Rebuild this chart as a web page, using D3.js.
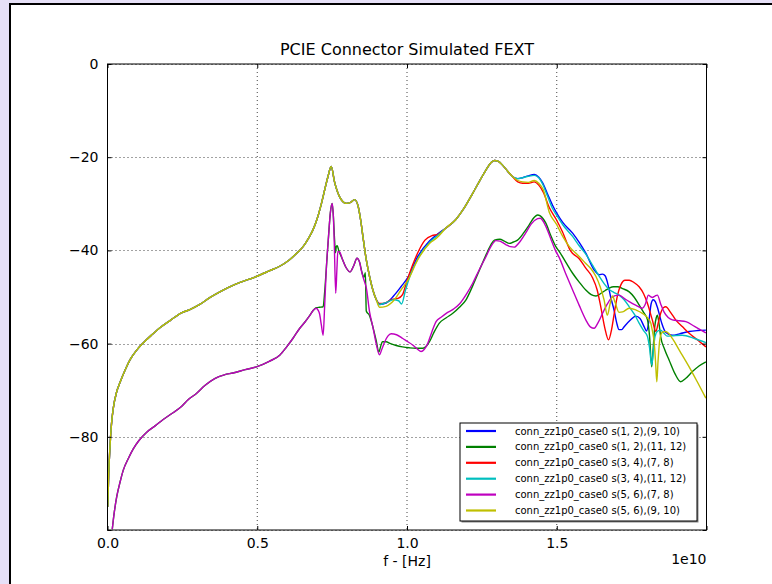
<!DOCTYPE html>
<html>
<head>
<meta charset="utf-8">
<script src="https://cdn.jsdelivr.net/npm/d3@7"></script>
<style>
  html, body { margin: 0; padding: 0; background: #e6e0f7; }
  svg { display: block; }
  text { font-family: "DejaVu Sans", sans-serif; fill: #000; }
</style>
</head>
<body>
<svg id="chart" width="772" height="584"></svg>
<script>
// Frequency in units of 1e10 Hz, magnitude in dB.
const seriesNames = [
  "conn_zz1p0_case0 s(1, 2),(9, 10)",
  "conn_zz1p0_case0 s(1, 2),(11, 12)",
  "conn_zz1p0_case0 s(3, 4),(7, 8)",
  "conn_zz1p0_case0 s(3, 4),(11, 12)",
  "conn_zz1p0_case0 s(5, 6),(7, 8)",
  "conn_zz1p0_case0 s(5, 6),(9, 10)"
];
const seriesColors = ["#0000ff", "#008000", "#ff0000", "#00bfbf", "#bf00bf", "#bfbf00"];

const xTicks = [0, 0.5, 1.0, 1.5, 2.0];
const xTickLabels = ["0.0", "0.5", "1.0", "1.5", ""];
const yTicks = [0, -20, -40, -60, -80, -100];
const yTickLabels = ["0", "\u221220", "\u221240", "\u221260", "\u221280", ""];

// Shared low-frequency segment of the four upper traces
const upperRise = [
  [0.001,-95],[0.004,-88],[0.008,-82.5],[0.013,-77.5],[0.019,-74],[0.03,-70.5],
  [0.042,-68.3],[0.06,-65.5],[0.075,-63.5],[0.095,-61.6],[0.12,-59.8],[0.15,-58],
  [0.175,-56.6],[0.21,-55],[0.247,-53.4],[0.275,-52.7],[0.308,-51.6],[0.34,-50.2],
  [0.375,-48.9],[0.43,-47.2],[0.497,-45.6],[0.54,-44.4],[0.575,-43.4],[0.608,-42],
  [0.635,-40.4],[0.653,-39.2],[0.672,-37.3],[0.686,-35.6],[0.70,-33.2],[0.714,-30],
  [0.727,-26.5],[0.736,-24.2],[0.747,-22.0],[0.758,-25.3],[0.775,-28.5],[0.797,-29.9],
  [0.812,-29.7],[0.825,-29.1],[0.836,-30.3],[0.846,-33.8],[0.853,-37.1],[0.864,-42],
  [0.875,-45.6],[0.886,-48.5],[0.897,-50.5]
];
// Shared mid-band peak of the four upper traces
const upperPeak = [
  [1.13,-35.2],[1.164,-33.3],[1.19,-31],[1.219,-27.8],[1.245,-24.8],[1.264,-22.7],
  [1.28,-21.2],[1.292,-20.7],[1.305,-20.9],[1.319,-21.7],[1.336,-23],[1.353,-24.2]
];

const blueMid = [
  [0.908,-51.6],[0.93,-51.3],[0.955,-49.8],[0.98,-47.8],[1.003,-45.8],[1.036,-41.3],
  [1.075,-38],[1.1,-36.6]
];
const blueTail = [
  [1.37,-24.6],[1.386,-24.4],[1.405,-24],[1.425,-23.7],[1.44,-24.3],[1.453,-25.5],
  [1.47,-28],[1.486,-30.3],[1.5,-32],[1.52,-34],[1.553,-36.3],[1.575,-38.3],
  [1.597,-40.6],[1.625,-44.2],[1.642,-45.2],[1.653,-45.1],[1.662,-45.5],[1.669,-46.8],
  [1.68,-50],[1.692,-53],[1.7,-55.5],[1.708,-57],[1.717,-57],[1.725,-56.4],[1.745,-55],
  [1.764,-54.1],[1.778,-54.6],[1.792,-56.4],[1.80,-57.3],[1.808,-55],[1.815,-51.5],
  [1.822,-50.6],[1.829,-51],[1.836,-52.2],[1.85,-55.5],[1.864,-57.6],[1.886,-58.2],
  [1.91,-57.9],[1.942,-57.4],[1.97,-57.2],[1.998,-57.1]
];

const redMid = [
  [0.908,-51.4],[0.93,-51.2],[0.95,-50.5],[0.97,-50.3],[0.985,-49.5],[1.0,-46.5],
  [1.036,-40.5],[1.06,-37.8],[1.085,-36.8],[1.1,-36.6]
];
const redTail = [
  [1.37,-25.3],[1.386,-25.6],[1.405,-25.6],[1.425,-25.3],[1.44,-26],[1.455,-27.5],
  [1.475,-30.8],[1.497,-33.2],[1.519,-36],[1.545,-40],[1.575,-41.8],[1.597,-43.8],
  [1.619,-45.8],[1.635,-48.5],[1.647,-52.1],[1.66,-56.5],[1.673,-59.2],[1.683,-57],
  [1.692,-53.5],[1.703,-49.6],[1.714,-47.4],[1.728,-46.4],[1.742,-46.4],[1.758,-46.9],
  [1.775,-47.8],[1.79,-49.3],[1.803,-51.4],[1.819,-54.9],[1.831,-57.4],[1.839,-55.5],
  [1.847,-53.5],[1.856,-52.3],[1.864,-52.1],[1.88,-53.3],[1.897,-54.9],[1.92,-56.4],
  [1.942,-57.8],[1.97,-59.2],[1.998,-60.7]
];

const cyanMid = [
  [0.908,-51.6],[0.93,-51.2],[0.955,-50.6],[0.972,-50.8],[0.982,-51.5],[0.995,-48.5],
  [1.01,-45.5],[1.036,-41.8],[1.075,-38.3],[1.1,-36.9]
];
const cyanTail = [
  [1.37,-24.6],[1.386,-24.4],[1.405,-24.1],[1.425,-23.9],[1.44,-24.4],[1.453,-25.8],
  [1.47,-28.5],[1.486,-31],[1.5,-32.5],[1.52,-34.5],[1.553,-37],[1.575,-39],
  [1.597,-40.8],[1.62,-43.2],[1.642,-45.6],[1.66,-47.3],[1.675,-48.4],[1.69,-49],
  [1.708,-49.6],[1.725,-50.6],[1.742,-52.1],[1.76,-53.8],[1.775,-55.6],[1.79,-57.2],
  [1.803,-58.5],[1.81,-61],[1.817,-64.6],[1.822,-62],[1.828,-58.5],[1.837,-57.3],
  [1.847,-57.1],[1.858,-57.8],[1.869,-58.4],[1.89,-58.3],[1.919,-58.2],[1.96,-58.9],
  [1.998,-59.8]
];

const yellowMid = [
  [0.908,-52.2],[0.93,-52],[0.955,-50.8],[0.98,-48.5],[1.003,-46.4],[1.036,-42],
  [1.075,-38.5],[1.1,-37.3]
];
const yellowTail = [
  [1.37,-25],[1.386,-25.3],[1.405,-25.4],[1.425,-25],[1.44,-25.6],[1.455,-27],
  [1.475,-31.8],[1.5,-34.5],[1.52,-37],[1.542,-39.2],[1.57,-41],[1.597,-42.8],
  [1.615,-44],[1.631,-45.6],[1.645,-47.8],[1.658,-50.6],[1.669,-53.9],[1.678,-51.5],
  [1.686,-49.8],[1.695,-51.2],[1.708,-53.3],[1.72,-53.2],[1.742,-52.4],[1.765,-52.8],
  [1.786,-53.5],[1.805,-54.6],[1.814,-55.6],[1.82,-57.5],[1.825,-59.5],[1.83,-64],
  [1.834,-68.2],[1.838,-64],[1.844,-59.2],[1.852,-57.6],[1.864,-57.4],[1.875,-57.9],
  [1.886,-58.9],[1.91,-61.5],[1.942,-65],[1.97,-68.3],[1.998,-71.7]
];

// Shared low-frequency segment of the two lower traces
const lowerRise = [
  [0.016,-99.8],[0.022,-96.5],[0.031,-92.8],[0.042,-89.7],[0.053,-87.1],[0.07,-84.6],
  [0.086,-82.6],[0.105,-80.8],[0.131,-79.0],[0.16,-77.6],[0.186,-76.3],[0.215,-75],
  [0.247,-73.5],[0.27,-72],[0.297,-70.7],[0.325,-69],[0.358,-67.5],[0.39,-66.7],
  [0.419,-66.3],[0.46,-65.6],[0.497,-65],[0.54,-63.8],[0.575,-62.5],[0.597,-60.8],
  [0.62,-58.8],[0.642,-56.7],[0.66,-55.3],[0.675,-54],[0.688,-52.8]
];

const greenTail = [
  [0.697,-52.3],[0.708,-52.2],[0.72,-52.1],[0.725,-49],[0.731,-43.5],[0.738,-37],
  [0.744,-32],[0.75,-29.9],[0.754,-32.5],[0.758,-37.5],[0.761,-40.5],[0.764,-39.2],
  [0.767,-39],[0.772,-40],[0.785,-42],[0.795,-43.5],[0.81,-44.6],[0.822,-43.3],
  [0.833,-41.7],[0.842,-42.6],[0.85,-44.8],[0.856,-45.8],[0.861,-44.8],[0.864,-53],
  [0.875,-54],[0.886,-56.4],[0.897,-59.3],[0.906,-61.8],[0.912,-60.6],[0.918,-59.6],
  [0.93,-59.6],[0.945,-60],[0.964,-60.4],[0.985,-60.7],[1.008,-60.9],[1.03,-61],
  [1.053,-61],[1.065,-60.5],[1.075,-59.6],[1.09,-57.6],[1.108,-55.6],[1.13,-54.5],
  [1.153,-53.5],[1.175,-52.2],[1.197,-50.6],[1.22,-47.5],[1.242,-44.2],[1.265,-40.8],
  [1.28,-38.8],[1.292,-37.8],[1.31,-37.6],[1.325,-38],[1.342,-38.5],[1.355,-38.2],
  [1.369,-37.8],[1.39,-36.2],[1.408,-34.5],[1.425,-32.9],[1.436,-32.4],[1.445,-32.6],
  [1.464,-34.2],[1.48,-36.8],[1.497,-39.2],[1.508,-40.2],[1.53,-42.5],[1.553,-44.9],
  [1.575,-46.8],[1.597,-48.5],[1.615,-49.5],[1.631,-49.8],[1.648,-49.2],[1.662,-48.6],
  [1.675,-48.1],[1.69,-47.8],[1.703,-47.8],[1.72,-48.2],[1.742,-48.9],[1.758,-50],
  [1.775,-51.7],[1.79,-53.3],[1.803,-54.9],[1.81,-58.5],[1.817,-65],[1.822,-61],
  [1.827,-56.5],[1.832,-54.5],[1.836,-53.9],[1.841,-55.5],[1.847,-58.5],[1.86,-61.2],
  [1.875,-63.5],[1.895,-66.5],[1.914,-68.2],[1.93,-67.5],[1.953,-66],[1.975,-64.8],
  [1.998,-63.9]
];

const magentaTail = [
  [0.697,-52.4],[0.703,-52.8],[0.708,-53.6],[0.714,-56],[0.72,-58.2],[0.725,-52],
  [0.731,-43.5],[0.738,-37],[0.744,-32],[0.75,-29.9],[0.754,-32.5],[0.757,-38],
  [0.762,-49.2],[0.766,-44],[0.769,-40.2],[0.775,-40.3],[0.785,-42],[0.795,-43.5],
  [0.81,-44.6],[0.822,-43.3],[0.833,-41.7],[0.842,-42.6],[0.847,-44.2],[0.858,-46.7],
  [0.864,-48],[0.875,-53.2],[0.886,-56.4],[0.897,-60],[0.908,-62.4],[0.916,-61.2],
  [0.925,-59.7],[0.936,-58.4],[0.947,-57.9],[0.965,-58.1],[0.986,-58.9],[1.0,-59.5],
  [1.019,-60.3],[1.035,-61.2],[1.047,-61.7],[1.058,-61.2],[1.069,-60],[1.083,-57.5],
  [1.097,-55.3],[1.115,-54.3],[1.131,-53.5],[1.155,-52.6],[1.175,-51.5],[1.2,-49.2],
  [1.219,-47.1],[1.24,-44.3],[1.264,-41.3],[1.28,-39.2],[1.297,-37.9],[1.31,-38],
  [1.331,-38.8],[1.345,-39.2],[1.358,-39.3],[1.375,-38.3],[1.397,-36.2],[1.415,-34.3],
  [1.436,-33.2],[1.445,-33.1],[1.464,-34.9],[1.48,-37.5],[1.497,-40.2],[1.508,-41.5],
  [1.53,-45],[1.553,-48.5],[1.575,-51.8],[1.597,-54.9],[1.612,-56.4],[1.625,-56.7],
  [1.638,-55.5],[1.653,-53.5],[1.668,-51.6],[1.681,-50.3],[1.695,-49.7],[1.708,-49.6],
  [1.725,-50.3],[1.742,-51],[1.765,-51.8],[1.786,-52.4],[1.796,-51.5],[1.806,-49.6],
  [1.813,-49.9],[1.819,-50.1],[1.828,-49.8],[1.836,-49.6],[1.847,-51.5],[1.858,-53.2],
  [1.872,-54.4],[1.886,-54.9],[1.91,-55.1],[1.931,-55.3],[1.96,-56.3],[1.998,-57.7]
];

const blue    = upperRise.concat(blueMid, upperPeak, blueTail);
const green   = lowerRise.concat(greenTail);
const red     = upperRise.concat(redMid, upperPeak, redTail);
const cyan    = upperRise.concat(cyanMid, upperPeak, cyanTail);
const magenta = lowerRise.concat(magentaTail);
const yellow  = upperRise.concat(yellowMid, upperPeak, yellowTail);
const seriesData = [blue, green, red, cyan, magenta, yellow];

const svg = d3.select("#chart");
const W = 772, H = 584;

// figure canvas with its dark frame
svg.append("rect").attr("x", 10).attr("y", 4).attr("width", W).attr("height", H)
  .attr("fill", "#fff").attr("stroke", "#000").attr("stroke-width", 2);

const plot = { left: 107.5, top: 64, right: 706.5, bottom: 530 };
const x = d3.scaleLinear().domain([0, 2]).range([plot.left, plot.right]);
const y = d3.scaleLinear().domain([-100, 0]).range([plot.bottom, plot.top]);

svg.append("defs").append("clipPath").attr("id", "plotClip")
  .append("rect").attr("x", plot.left).attr("y", plot.top)
  .attr("width", plot.right - plot.left).attr("height", plot.bottom - plot.top);

// dotted grid
const grid = svg.append("g");
grid.selectAll("line.gx").data(xTicks).join("line")
  .attr("x1", d => x(d)).attr("x2", d => x(d))
  .attr("y1", plot.top).attr("y2", plot.bottom)
  .attr("stroke", "#444").attr("stroke-width", 1).attr("stroke-dasharray", "1,3");
grid.selectAll("line.gy").data(yTicks).join("line")
  .attr("y1", d => Math.round(y(d)) + 0.5).attr("y2", d => Math.round(y(d)) + 0.5)
  .attr("x1", plot.left).attr("x2", plot.right)
  .attr("stroke", "#444").attr("stroke-width", 1).attr("stroke-dasharray", "1,3");

// traces
const line = d3.line().x(d => x(d[0])).y(d => y(d[1])).curve(d3.curveMonotoneX);
svg.append("g").attr("clip-path", "url(#plotClip)")
  .selectAll("path").data(seriesData).join("path")
  .attr("d", line).attr("fill", "none")
  .attr("stroke", (d, i) => seriesColors[i]).attr("stroke-width", 1.4)
  .attr("stroke-linejoin", "round");

// axes: ticks inside on all four sides
const tickLen = 4;
const axBottom = d3.axisBottom(x).tickValues(xTicks).tickSize(-tickLen).tickPadding(8)
  .tickFormat((d, i) => xTickLabels[i]);
const axTop = d3.axisTop(x).tickValues(xTicks).tickSize(-tickLen).tickFormat("");
const axLeft = d3.axisLeft(y).tickValues(yTicks).tickSize(-tickLen).tickPadding(9)
  .tickFormat((d, i) => yTickLabels[i]);
const axRight = d3.axisRight(y).tickValues(yTicks).tickSize(-tickLen).tickFormat("");

function styleAxis(g) {
  g.select(".domain").remove();
  g.selectAll(".tick line").attr("stroke", "#000");
  g.selectAll(".tick text").attr("font-family", "DejaVu Sans").attr("font-size", 14).attr("fill", "#000");
}
svg.append("g").attr("transform", `translate(0,${plot.bottom})`).call(axBottom).call(styleAxis);
svg.append("g").attr("transform", `translate(0,${plot.top})`).call(axTop).call(styleAxis);
svg.append("g").attr("transform", `translate(${plot.left},0)`).call(axLeft).call(styleAxis);
svg.append("g").attr("transform", `translate(${plot.right},0)`).call(axRight).call(styleAxis);

// frame around the axes
svg.append("rect").attr("x", plot.left).attr("y", plot.top)
  .attr("width", plot.right - plot.left).attr("height", plot.bottom - plot.top)
  .attr("fill", "none").attr("stroke", "#000").attr("stroke-width", 1);

// title and labels
svg.append("text").attr("x", (plot.left + plot.right) / 2).attr("y", 55)
  .attr("text-anchor", "middle").attr("font-size", 16).text("PCIE Connector Simulated FEXT");
svg.append("text").attr("x", (plot.left + plot.right) / 2).attr("y", 566)
  .attr("text-anchor", "middle").attr("font-size", 14).text("f - [Hz]");
svg.append("text").attr("x", plot.right).attr("y", 564)
  .attr("text-anchor", "end").attr("font-size", 14).text("1e10");

// legend
const lg = { x: 460, y: 423, w: 237, h: 98, row: 15.9 };
const legend = svg.append("g");
legend.append("rect").attr("x", lg.x + 1.5).attr("y", lg.y + 1.5).attr("width", lg.w).attr("height", lg.h)
  .attr("fill", "#888");
legend.append("rect").attr("x", lg.x).attr("y", lg.y).attr("width", lg.w).attr("height", lg.h)
  .attr("fill", "#fff").attr("stroke", "#000").attr("stroke-width", 1);
const rows = legend.selectAll("g.row").data(seriesNames).join("g")
  .attr("transform", (d, i) => `translate(0,${lg.y + 8 + i * lg.row})`);
rows.append("line").attr("x1", 466).attr("x2", 496).attr("y1", 0).attr("y2", 0)
  .attr("stroke", (d, i) => seriesColors[i]).attr("stroke-width", 2.2);
rows.append("text").attr("x", 515).attr("y", 0).attr("dy", "0.35em")
  .attr("font-size", 10).text(d => d);
</script>
</body>
</html>
